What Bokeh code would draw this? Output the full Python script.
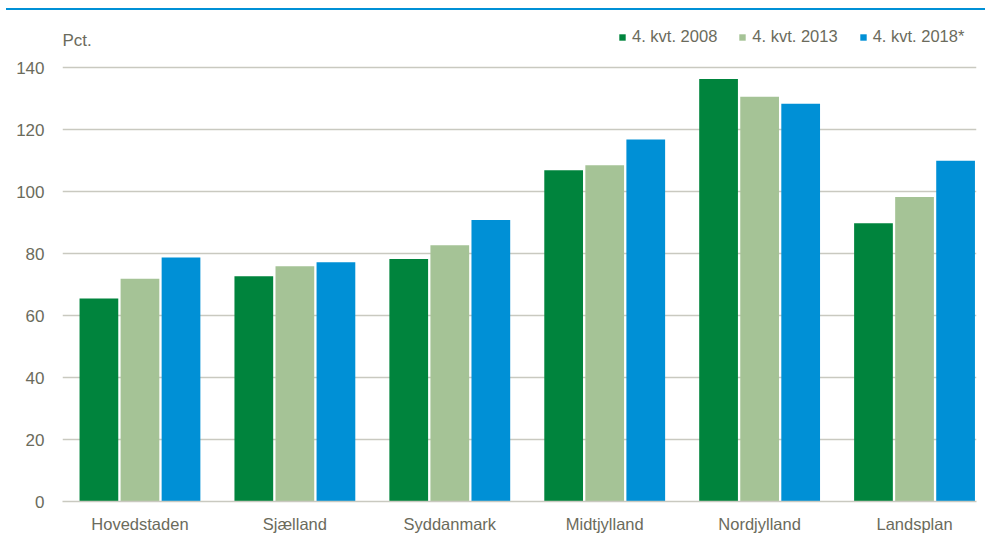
from bokeh.plotting import figure
from bokeh.layouts import column
from bokeh.models import (ColumnDataSource, Range1d, FixedTicker, Legend, LegendItem,
                          Label, Div)
from bokeh.transform import dodge
from bokeh.embed import file_html
from bokeh.resources import INLINE

categories = ["Hovedstaden", "Sjælland", "Syddanmark", "Midtjylland", "Nordjylland", "Landsplan"]
v2008 = [65.5, 72.7, 78.2, 106.9, 136.3, 89.8]
v2013 = [71.9, 75.9, 82.7, 108.5, 130.6, 98.2]
v2018 = [78.7, 77.2, 90.8, 116.8, 128.3, 109.9]
series_names = ["4. kvt. 2008", "4. kvt. 2013", "4. kvt. 2018*"]
y_ticks = [0, 20, 40, 60, 80, 100, 120, 140]

C_DARK = "#00843D"
C_LIGHT = "#A5C396"
C_BLUE = "#0090D6"
TXT = "#6B6B5C"
GRID = "#C9C9C0"
FONT = "Liberation Sans"

source = ColumnDataSource(dict(x=list(range(len(categories))), v2008=v2008, v2013=v2013, v2018=v2018))

p = figure(width=977, height=525, output_backend="svg", toolbar_location=None,
           x_range=Range1d(-0.5, 5.4), y_range=Range1d(0, 158.4),
           min_border_left=62, min_border_right=1, min_border_top=0, min_border_bottom=33)
p.outline_line_color = None
p.background_fill_color = "white"
p.border_fill_color = "white"

w = 0.25
off = 0.265
r1 = p.vbar(x=dodge("x", -off), top="v2008", width=w, source=source, fill_color=C_DARK, line_color=None)
r2 = p.vbar(x=dodge("x", 0), top="v2013", width=w, source=source, fill_color=C_LIGHT, line_color=None)
r3 = p.vbar(x=dodge("x", off), top="v2018", width=w, source=source, fill_color=C_BLUE, line_color=None)

p.xgrid.visible = False
p.ygrid.ticker = FixedTicker(ticks=y_ticks)
p.ygrid.grid_line_color = GRID
p.ygrid.grid_line_width = 1.5
p.ygrid.level = "underlay"

p.yaxis.ticker = FixedTicker(ticks=y_ticks)
p.yaxis.axis_line_color = None
p.yaxis.major_tick_line_color = None
p.yaxis.minor_tick_line_color = None
p.yaxis.major_tick_out = 0
p.yaxis.major_label_standoff = 18
p.yaxis.major_label_text_font = FONT
p.yaxis.major_label_text_font_size = "17px"
p.yaxis.major_label_text_color = TXT

p.xaxis.ticker = FixedTicker(ticks=list(range(len(categories))))
p.xaxis.major_label_overrides = {i: c for i, c in enumerate(categories)}
p.xaxis.axis_line_color = GRID
p.xaxis.axis_line_width = 1.5
p.xaxis.major_tick_line_color = None
p.xaxis.minor_tick_line_color = None
p.xaxis.major_tick_out = 0
p.xaxis.major_label_standoff = 13
p.xaxis.major_label_text_font = FONT
p.xaxis.major_label_text_font_size = "16.5px"
p.xaxis.major_label_text_color = TXT

legend = Legend(items=[LegendItem(label=series_names[0], renderers=[r1]),
                       LegendItem(label=series_names[1], renderers=[r2]),
                       LegendItem(label=series_names[2], renderers=[r3])],
                orientation="horizontal", location=(556, 455),
                label_text_font=FONT, label_text_font_size="16.5px", label_text_color=TXT,
                glyph_width=8, glyph_height=8, label_standoff=6, spacing=21,
                padding=0, margin=0, border_line_color=None, background_fill_alpha=0)
p.add_layout(legend, "center")

p.add_layout(Label(x=0, y=461, x_units="screen", y_units="screen", text="Pct.",
                   text_font=FONT, text_font_size="17px", text_color=TXT,
                   text_baseline="middle"))

top_line = Div(text="", width=979, height=2, margin=(8, 0, 0, 6),
               styles={"background-color": C_BLUE})

layout = column(top_line, p, spacing=0)

open("out.html", "w").write(file_html(layout, INLINE))
